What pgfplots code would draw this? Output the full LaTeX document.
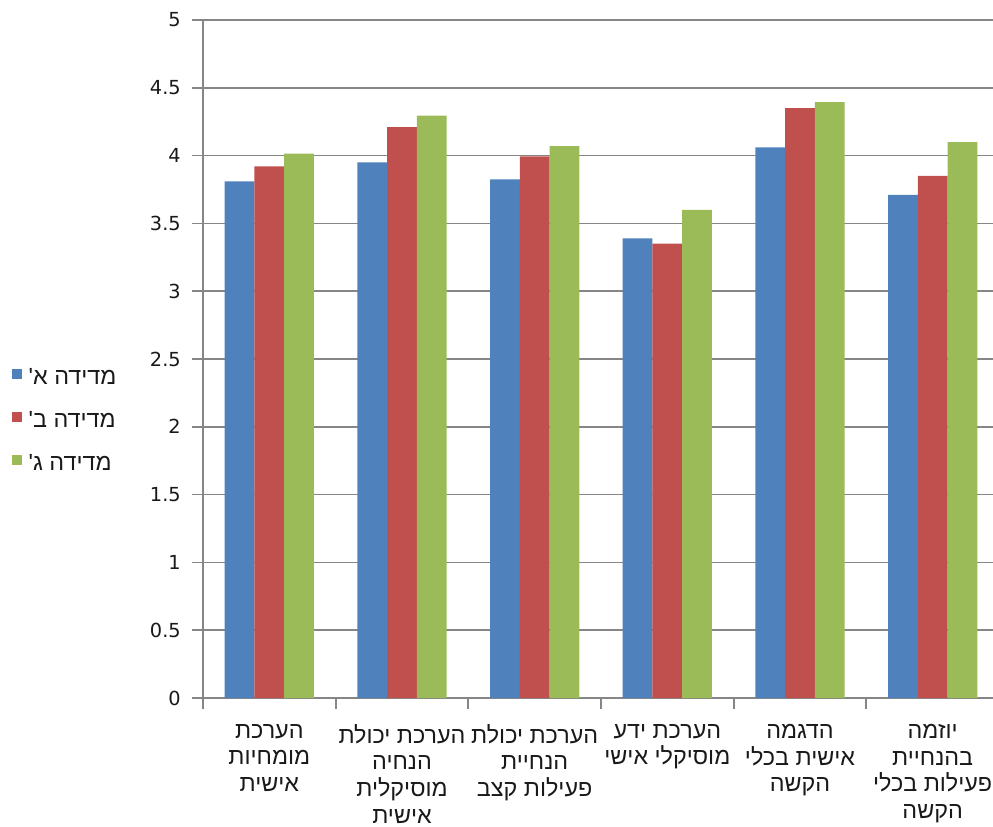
\documentclass[border=0pt]{standalone}
\usepackage{fontspec}
\usepackage{pgfplots}
\pgfplotsset{compat=1.18}
\TeXXeTstate=1
\setmainfont{DejaVu Sans}
\newfontfamily\heb[Script=Hebrew]{Liberation Sans}
\definecolor{sA}{HTML}{4F81BD}
\definecolor{sB}{HTML}{C0504D}
\definecolor{sC}{HTML}{9BBB59}
\definecolor{gridc}{RGB}{134,134,134}
\begin{document}
\begin{tikzpicture}
\useasboundingbox (-152.25pt,-96pt) rectangle (592.5pt,523.5pt);
\begin{axis}[
  at={(0,0)}, anchor=south west, scale only axis,
  width=597pt, height=508.5pt,
  xmin=-0.5, xmax=5.5, ymin=0, ymax=5,
  ybar=0pt, bar width=22.3pt,
  axis x line*=bottom, axis y line*=left,
  axis line style={gridc, line width=1.3pt, -},
  ymajorgrids, grid style={gridc, line width=1.3pt},
  ytick={0,0.5,1,1.5,2,2.5,3,3.5,4,4.5,5},
  xtick={-0.5,0.5,1.5,2.5,3.5,4.5,5.5},
  x tick label as interval,
  tick align=outside, major tick length=8pt,
  tick style={gridc, line width=1.3pt},
  /pgf/number format/assume math mode=true,
  tick label style={font=\fontsize{14.5}{18}\selectfont, text=black!90},
  yticklabel style={anchor=east, inner sep=0pt, xshift=-8.5pt},
  xticklabel style={anchor=north, inner sep=0pt, align=center, yshift=-11.5pt,
     execute at begin node={\rule{0pt}{14pt}},
     font=\heb\fontsize{17.5}{20}\selectfont},
  xticklabels={
    {\beginR הערכת\endR\\\beginR מומחיות\endR\\\beginR אישית\endR},
    {\beginR הערכת יכולת\endR\\\beginR הנחיה\endR\\\beginR מוסיקלית\endR\\\beginR אישית\endR},
    {\beginR הערכת יכולת\endR\\\beginR הנחיית\endR\\\beginR פעילות קצב\endR},
    {\beginR הערכת ידע\endR\\\beginR מוסיקלי אישי\endR},
    {\beginR הדגמה\endR\\\beginR אישית בכלי\endR\\\beginR הקשה\endR},
    {\beginR יוזמה\endR\\\beginR בהנחיית\endR\\\beginR פעילות בכלי\endR\\\beginR הקשה\endR}
  },
  legend style={draw=none, fill=none, at={(-0.2399,0.407)}, anchor=west,
     inner sep=0pt, outer sep=0pt, row sep=16.25pt, column sep=5pt,
     nodes={inner sep=0pt, anchor=west, text height=12pt, text depth=4pt, text=black!90},
     font=\heb\fontsize{17.5}{20}\selectfont},
  legend cell align=left,
  legend image code/.code={\fill[#1] (0pt,0pt) rectangle (7.5pt,7.5pt);},
]
\addplot[fill=sA, draw=none] coordinates {(0,3.81) (1,3.95) (2,3.825) (3,3.39) (4,4.06) (5,3.71)};
\addplot[fill=sB, draw=none] coordinates {(0,3.92) (1,4.21) (2,3.995) (3,3.35) (4,4.35) (5,3.85)};
\addplot[fill=sC, draw=none] coordinates {(0,4.015) (1,4.295) (2,4.07) (3,3.60) (4,4.395) (5,4.10)};
\addlegendentry{\beginR מדידה א'\endR}
\addlegendentry{\beginR מדידה ב'\endR}
\addlegendentry{\beginR מדידה ג'\endR}
\end{axis}
\end{tikzpicture}
\end{document}
